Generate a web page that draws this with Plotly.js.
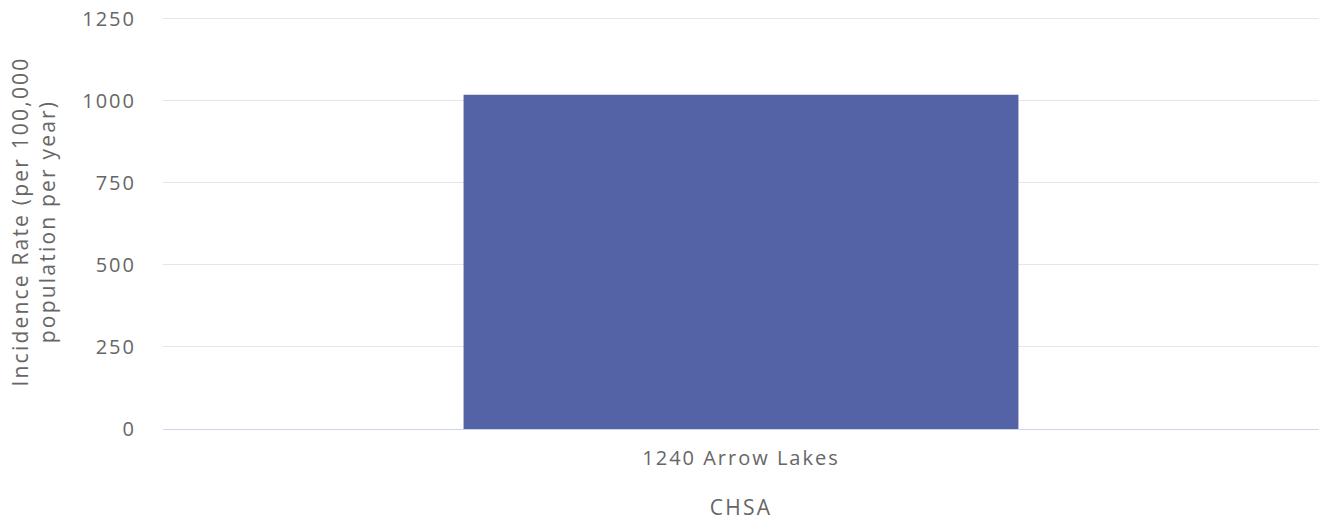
<!DOCTYPE html>
<html>
<head>
<meta charset="utf-8">
<script src="https://cdn.plot.ly/plotly-3.0.1.min.js"></script>
<style>
html,body{margin:0;padding:0;background:#fff;}
#chart{width:1319px;height:521px;}
#chart .xtick text, #chart .ytick text{letter-spacing:2px;}
#chart .xtitle, #chart .ytitle{letter-spacing:2.2px;}
</style>
</head>
<body>
<div id="chart"></div>
<script>
const categories = ["1240 Arrow Lakes"];
const values = [1019];
const yTickVals = [0, 250, 500, 750, 1000, 1250];
const yTickText = ["0", "250", "500", "750", "1000", "1250"];

const trace = {
  type: 'bar',
  x: categories,
  y: values,
  marker: {color: '#5463a5'},
  hoverinfo: 'x+y'
};

const layout = {
  width: 1319,
  height: 521,
  margin: {l: 163, r: 0, t: 14, b: 92},
  paper_bgcolor: '#ffffff',
  plot_bgcolor: '#ffffff',
  font: {family: 'Open Sans, sans-serif', size: 20, color: '#666666'},
  bargap: 0.52,
  showlegend: false,
  xaxis: {
    type: 'category',
    showgrid: false,
    showline: true,
    linecolor: '#ccd6eb',
    linewidth: 1,
    ticks: '',
    ticklabelstandoff: 11,
    tickfont: {size: 20, color: '#666666'},
    title: {text: 'CHSA', font: {size: 21, color: '#666666'}, standoff: 50},
    automargin: false
  },
  yaxis: {
    range: [0, 1265],
    tickvals: yTickVals,
    ticktext: yTickText,
    showgrid: true,
    gridcolor: '#e6e6e6',
    gridwidth: 1,
    zeroline: false,
    showline: false,
    ticks: '',
    ticklabelstandoff: 26,
    tickfont: {size: 20, color: '#666666'},
    title: {text: 'Incidence Rate (per 100,000<br>population per year)', font: {size: 21, color: '#666666'}, standoff: 28},
    automargin: false
  }
};

Plotly.newPlot('chart', [trace], layout, {displayModeBar: false, staticPlot: true});
</script>
</body>
</html>
